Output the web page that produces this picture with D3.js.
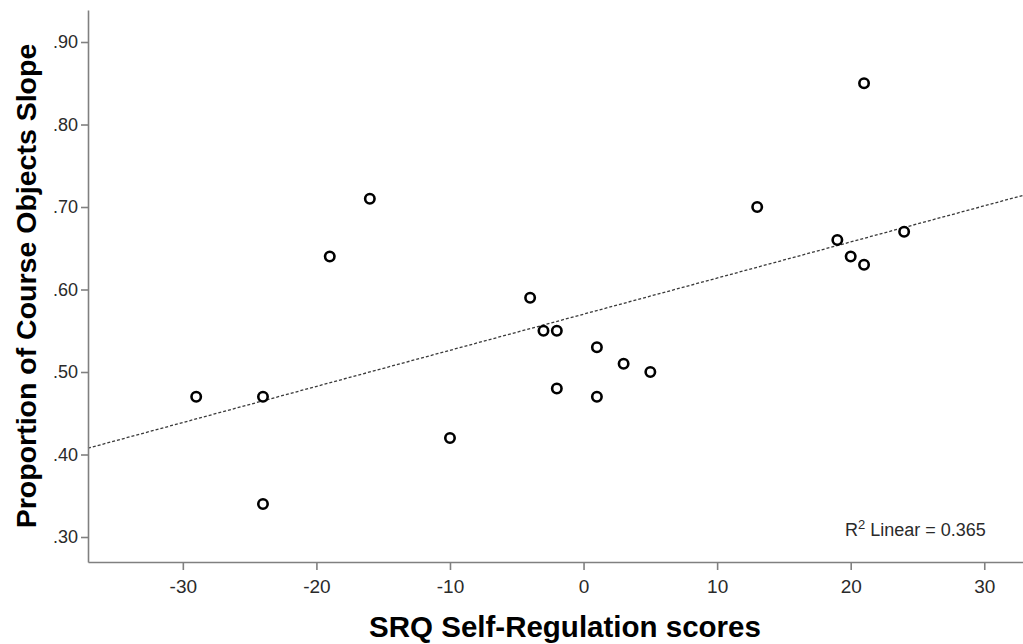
<!DOCTYPE html>
<html>
<head>
<meta charset="utf-8">
<script src="https://cdn.jsdelivr.net/npm/d3@7"></script>
<style>
  body { margin: 0; background: #fff; }
  svg { display: block; font-family: Arial, 'Liberation Sans', sans-serif; }
  .axis path, .axis line { stroke: #808080; stroke-width: 1.6; }
  .axis text { fill: #2a2a2a; font-size: 18px; }
  .x.axis text { font-size: 19px; }
  .title { font-weight: bold; fill: #000; }
</style>
</head>
<body>
<svg id="chart" width="1023" height="644"></svg>
<script>
// SRQ score (x) and proportion of course objects slope (y), one entry per student
var srqScores = [-29, -24, -24, -19, -16, -10, -4, -3, -2, -2, 1, 1, 3, 5, 13, 19, 20, 21, 21, 24]
var slopeProps = [0.47, 0.47, 0.34, 0.64, 0.71, 0.42, 0.59, 0.55, 0.55, 0.48, 0.53, 0.47, 0.51, 0.50, 0.70, 0.66, 0.64, 0.63, 0.85, 0.67]

var xTicks = [-30, -20, -10, 0, 10, 20, 30]
var yTicks = [0.30, 0.40, 0.50, 0.60, 0.70, 0.80, 0.90]
var xDomain = [-37.1, 32.9]
var yDomain = [0.2697, 0.9388]

var xTitle = 'SRQ Self-Regulation scores'
var yTitle = 'Proportion of Course Objects Slope'
var rSquared = 0.365

var margin = {top: 10, right: 0, bottom: 82, left: 88}
var width = 1023
var height = 644

var svg = d3.select('#chart')

var x = d3.scaleLinear()
  .domain(xDomain)
  .range([margin.left, width - margin.right])

var y = d3.scaleLinear()
  .domain(yDomain)
  .range([height - margin.bottom, margin.top])

// least squares fit for the dashed reference line
function linearFit (xs, ys) {
  var mx = d3.mean(xs)
  var my = d3.mean(ys)
  var sxy = 0
  var sxx = 0
  xs.forEach(function (v, i) {
    sxy += (v - mx) * (ys[i] - my)
    sxx += (v - mx) * (v - mx)
  })
  var b = sxy / sxx
  return {a: my - b * mx, b: b}
}

var fit = linearFit(srqScores, slopeProps)

svg.append('line')
  .attr('x1', x(xDomain[0]))
  .attr('y1', y(fit.a + fit.b * xDomain[0]))
  .attr('x2', x(xDomain[1]))
  .attr('y2', y(fit.a + fit.b * xDomain[1]))
  .attr('stroke', '#3a3a3a')
  .attr('stroke-width', 1.3)
  .attr('stroke-dasharray', '3,2')

// axes
svg.append('g')
  .attr('class', 'x axis')
  .attr('transform', 'translate(0,' + (height - margin.bottom) + ')')
  .call(d3.axisBottom(x)
    .tickValues(xTicks)
    .tickSize(8)
    .tickSizeOuter(0)
    .tickPadding(10)
    .tickFormat(function (d) { return String(d) }))

svg.append('g')
  .attr('class', 'y axis')
  .attr('transform', 'translate(' + margin.left + ',0)')
  .call(d3.axisLeft(y)
    .tickValues(yTicks)
    .tickSize(7)
    .tickSizeOuter(0)
    .tickPadding(3)
    .tickFormat(function (d) { return d3.format('.2f')(d).replace(/^0/, '') }))

svg.selectAll('.axis .domain').attr('stroke', '#808080')
svg.selectAll('.axis text').attr('font-family', null)
svg.selectAll('.axis text').attr('font-size', null)

// points
svg.append('g')
  .selectAll('circle')
  .data(srqScores)
  .enter().append('circle')
  .attr('cx', function (d) { return x(d) })
  .attr('cy', function (d, i) { return y(slopeProps[i]) })
  .attr('r', 4.7)
  .attr('fill', '#fff')
  .attr('stroke', '#000')
  .attr('stroke-width', 2.6)

// titles
svg.append('text')
  .attr('class', 'title')
  .attr('x', 565)
  .attr('y', 637)
  .attr('font-size', 29.5)
  .attr('text-anchor', 'middle')
  .text(xTitle)

svg.append('text')
  .attr('class', 'title')
  .attr('font-size', 28.5)
  .attr('transform', 'translate(36,' + ((height - margin.bottom + margin.top) / 2) + ') rotate(-90)')
  .attr('text-anchor', 'middle')
  .text(yTitle)

// R squared note
var note = svg.append('text')
  .attr('x', 845)
  .attr('y', 536)
  .attr('font-size', 18)
  .attr('fill', '#2a2a2a')
note.append('tspan').text('R')
note.append('tspan').attr('font-size', 13).attr('dy', -7).text('2')
note.append('tspan').attr('dy', 7).text(' Linear = ' + rSquared.toFixed(3))
</script>
</body>
</html>
